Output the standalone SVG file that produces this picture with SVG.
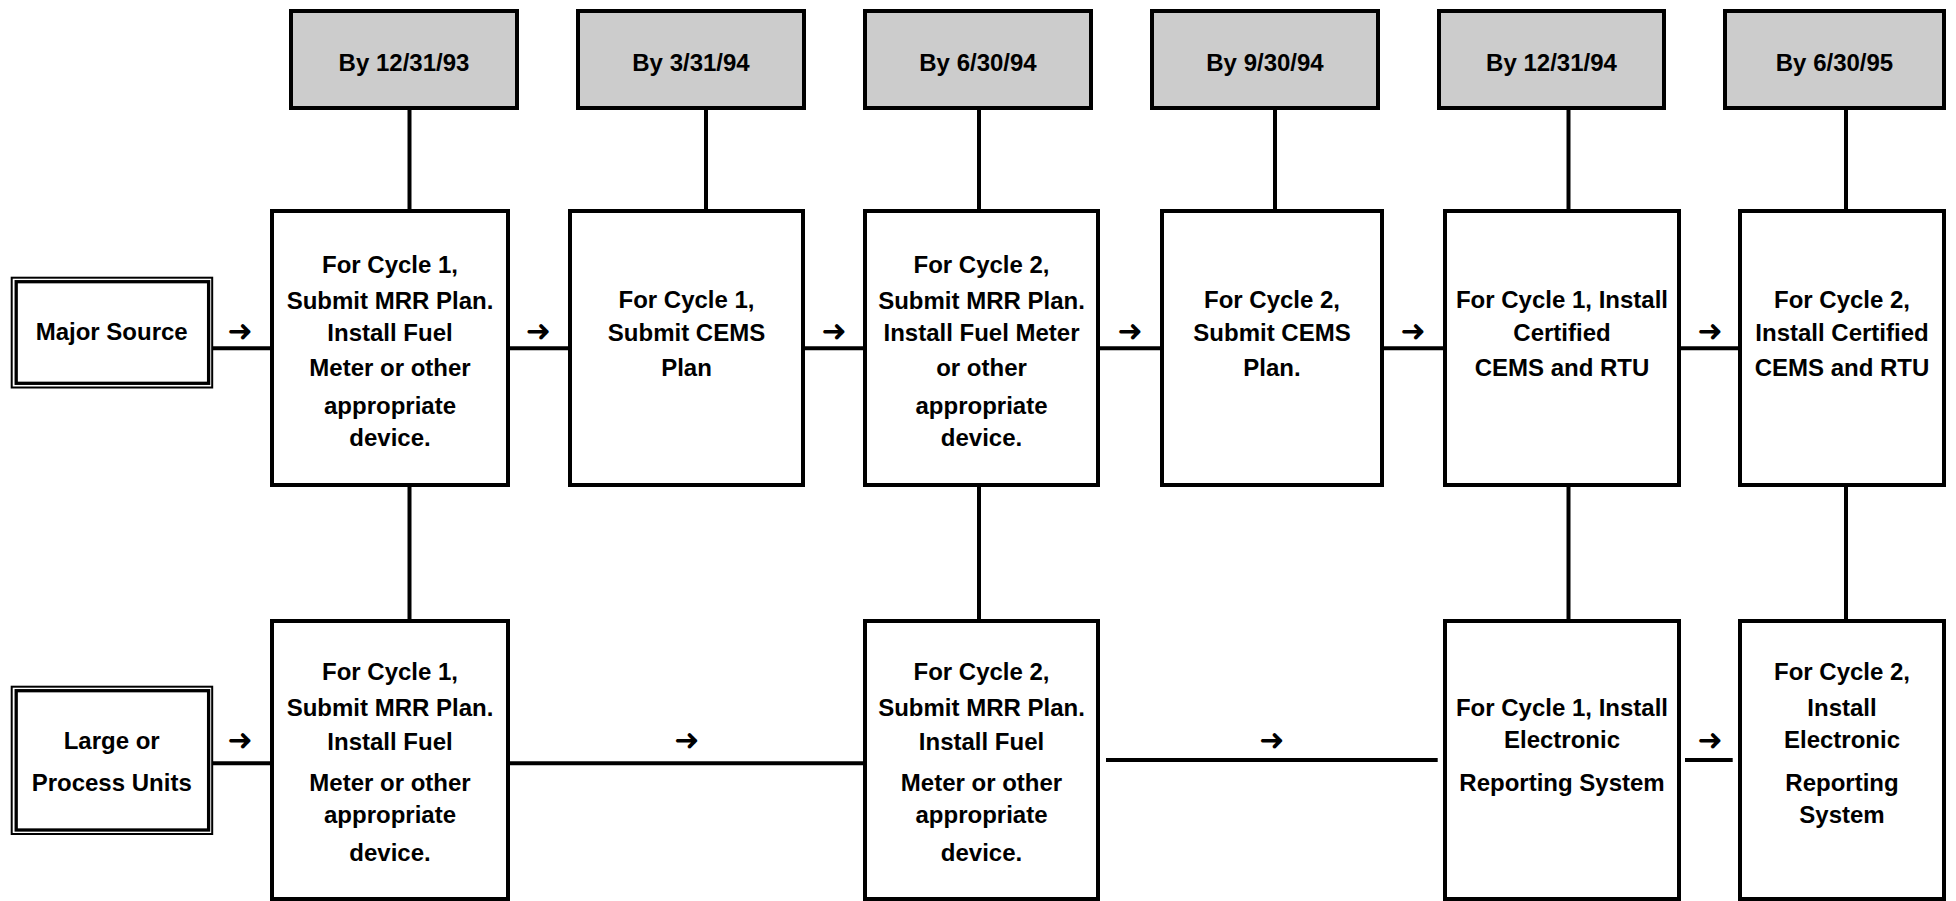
<svg xmlns="http://www.w3.org/2000/svg" width="1956" height="901" viewBox="0 0 1956 901">
<style>
.bg{fill:#ffffff}
.date rect{fill:#cccccc;stroke:#000;stroke-width:4}
.box rect{fill:#ffffff;stroke:#000;stroke-width:4}
.src .o{fill:#ffffff;stroke:#000;stroke-width:2}
.src .i{fill:none;stroke:#000;stroke-width:3.3}
text{font-family:"Liberation Sans",Arial,sans-serif;font-weight:bold;font-size:24px;text-anchor:middle;fill:#000}
.conn line{stroke:#000;stroke-width:4}
.arr{font-family:"DejaVu Sans",sans-serif;font-weight:bold;font-size:30px}
</style>
<rect class="bg" x="0" y="0" width="1956" height="901"/>
<g class="conn" id="connectors">
<line x1="409.5" y1="110" x2="409.5" y2="211"/>
<line x1="706" y1="110" x2="706" y2="211"/>
<line x1="979" y1="110" x2="979" y2="211"/>
<line x1="1275" y1="110" x2="1275" y2="211"/>
<line x1="1568.5" y1="110" x2="1568.5" y2="211"/>
<line x1="1846" y1="110" x2="1846" y2="211"/>
<line x1="409.5" y1="485" x2="409.5" y2="621"/>
<line x1="979" y1="485" x2="979" y2="621"/>
<line x1="1568.5" y1="485" x2="1568.5" y2="621"/>
<line x1="1846" y1="485" x2="1846" y2="621"/>
<line x1="213" y1="348.3" x2="272" y2="348.3"/>
<line x1="508" y1="348.3" x2="570" y2="348.3"/>
<line x1="803" y1="348.3" x2="865" y2="348.3"/>
<line x1="1098" y1="348.3" x2="1162" y2="348.3"/>
<line x1="1382" y1="348.3" x2="1445" y2="348.3"/>
<line x1="1679" y1="348.3" x2="1740" y2="348.3"/>
<line x1="213" y1="763.3" x2="272" y2="763.3"/>
<line x1="508" y1="763.3" x2="865" y2="763.3"/>
<line x1="1106" y1="760" x2="1437.7" y2="760"/>
<line x1="1685" y1="760" x2="1732.7" y2="760"/>
<text class="arr" x="240" y="341">➜</text>
<text class="arr" x="538.3" y="341">➜</text>
<text class="arr" x="834" y="341">➜</text>
<text class="arr" x="1130" y="341">➜</text>
<text class="arr" x="1413" y="341">➜</text>
<text class="arr" x="1710" y="341">➜</text>
<text class="arr" x="240" y="750">➜</text>
<text class="arr" x="686.7" y="750">➜</text>
<text class="arr" x="1271.7" y="750">➜</text>
<text class="arr" x="1710" y="750">➜</text>
</g>
<g id="date1" class="date"><rect x="291" y="11" width="226" height="97"/><text x="404" y="71">By 12/31/93</text></g>
<g id="date2" class="date"><rect x="578" y="11" width="226" height="97"/><text x="691" y="71">By 3/31/94</text></g>
<g id="date3" class="date"><rect x="865" y="11" width="226" height="97"/><text x="978" y="71">By 6/30/94</text></g>
<g id="date4" class="date"><rect x="1152" y="11" width="226" height="97"/><text x="1265" y="71">By 9/30/94</text></g>
<g id="date5" class="date"><rect x="1439" y="11" width="225" height="97"/><text x="1551.5" y="71">By 12/31/94</text></g>
<g id="date6" class="date"><rect x="1725" y="11" width="219" height="97"/><text x="1834.5" y="71">By 6/30/95</text></g>
<g id="major" class="src"><rect class="o" x="11.7" y="277.7" width="200.5" height="109.8"/><rect class="i" x="16.2" y="281.7" width="192.4" height="101.6"/><text x="111.7" y="340">Major Source</text></g>
<g id="large" class="src"><rect class="o" x="11.7" y="686.7" width="200.5" height="147.3"/><rect class="i" x="16.2" y="690.7" width="192.4" height="139.3"/><text x="111.7" y="749">Large or</text><text x="111.7" y="791">Process Units</text></g>
<g id="u1" class="box"><rect x="272" y="211" width="236" height="274"/>
<text x="390" y="273">For Cycle 1,</text><text x="390" y="309">Submit MRR Plan.</text><text x="390" y="341">Install Fuel</text><text x="390" y="376">Meter or other</text><text x="390" y="414">appropriate</text><text x="390" y="446">device.</text></g>
<g id="u2" class="box"><rect x="570" y="211" width="233" height="274"/>
<text x="686.5" y="308">For Cycle 1,</text><text x="686.5" y="341">Submit CEMS</text><text x="686.5" y="376">Plan</text></g>
<g id="u3" class="box"><rect x="865" y="211" width="233" height="274"/>
<text x="981.5" y="273">For Cycle 2,</text><text x="981.5" y="309">Submit MRR Plan.</text><text x="981.5" y="341">Install Fuel Meter</text><text x="981.5" y="376">or other</text><text x="981.5" y="414">appropriate</text><text x="981.5" y="446">device.</text></g>
<g id="u4" class="box"><rect x="1162" y="211" width="220" height="274"/>
<text x="1272" y="308">For Cycle 2,</text><text x="1272" y="341">Submit CEMS</text><text x="1272" y="376">Plan.</text></g>
<g id="u5" class="box"><rect x="1445" y="211" width="234" height="274"/>
<text x="1562" y="308">For Cycle 1, Install</text><text x="1562" y="341">Certified</text><text x="1562" y="376">CEMS and RTU</text></g>
<g id="u6" class="box"><rect x="1740" y="211" width="204" height="274"/>
<text x="1842" y="308">For Cycle 2,</text><text x="1842" y="341">Install Certified</text><text x="1842" y="376">CEMS and RTU</text></g>
<g id="l1" class="box"><rect x="272" y="621" width="236" height="278"/>
<text x="390" y="680">For Cycle 1,</text><text x="390" y="716">Submit MRR Plan.</text><text x="390" y="750">Install Fuel</text><text x="390" y="791">Meter or other</text><text x="390" y="823">appropriate</text><text x="390" y="861">device.</text></g>
<g id="l3" class="box"><rect x="865" y="621" width="233" height="278"/>
<text x="981.5" y="680">For Cycle 2,</text><text x="981.5" y="716">Submit MRR Plan.</text><text x="981.5" y="750">Install Fuel</text><text x="981.5" y="791">Meter or other</text><text x="981.5" y="823">appropriate</text><text x="981.5" y="861">device.</text></g>
<g id="l5" class="box"><rect x="1445" y="621" width="234" height="278"/>
<text x="1562" y="716">For Cycle 1, Install</text><text x="1562" y="748">Electronic</text><text x="1562" y="791">Reporting System</text></g>
<g id="l6" class="box"><rect x="1740" y="621" width="204" height="278"/>
<text x="1842" y="680">For Cycle 2,</text><text x="1842" y="716">Install</text><text x="1842" y="748">Electronic</text><text x="1842" y="791">Reporting</text><text x="1842" y="823">System</text></g>
</svg>
